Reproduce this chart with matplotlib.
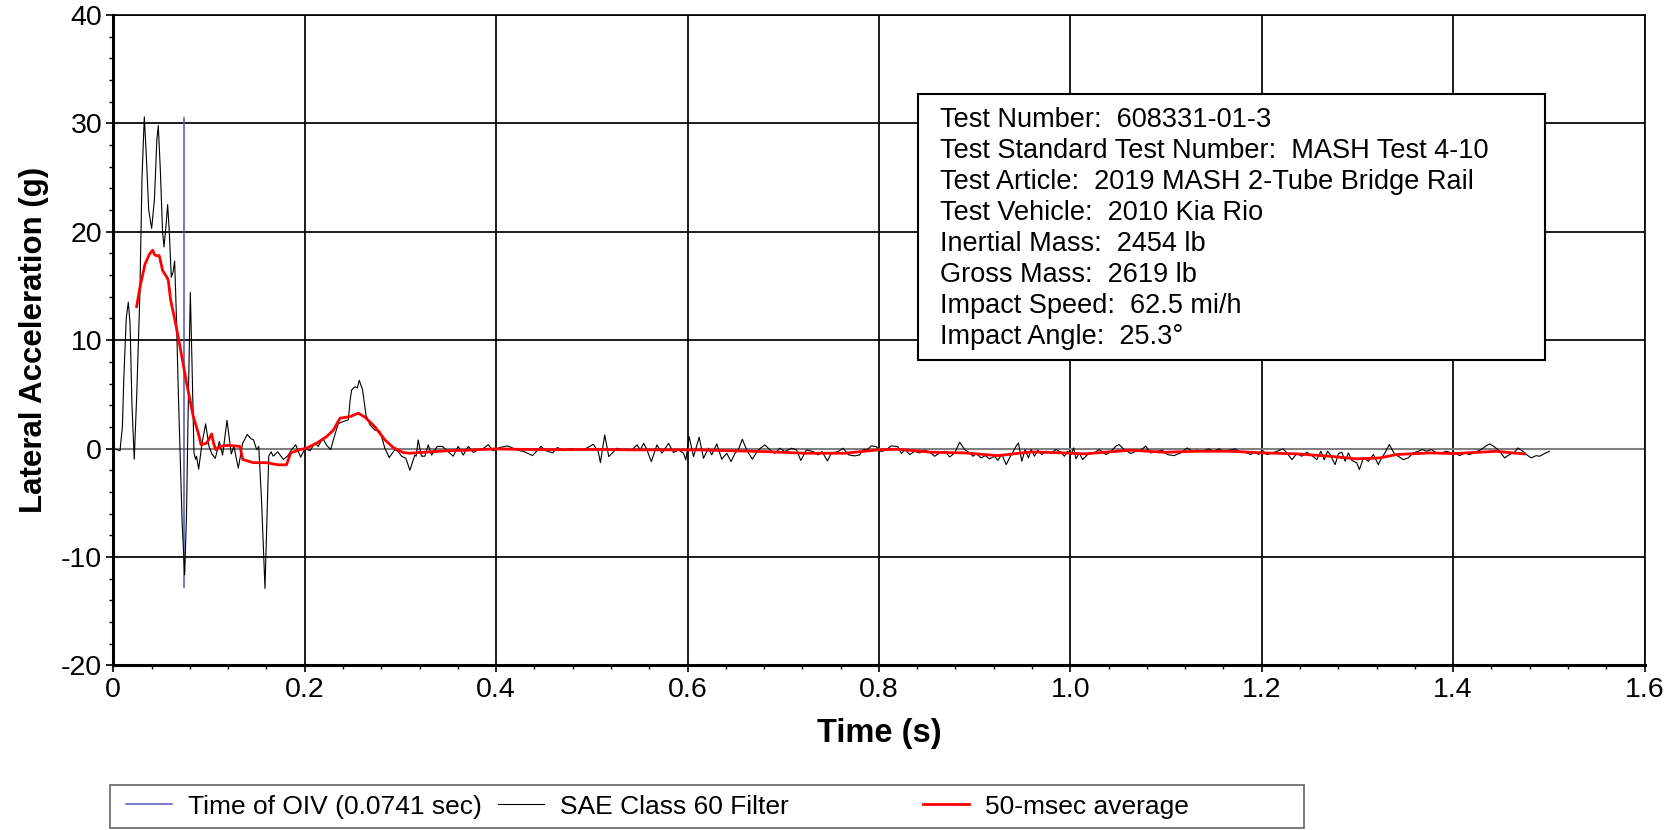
import matplotlib
matplotlib.use("Agg")
import matplotlib.pyplot as plt
from matplotlib.patches import Rectangle
from matplotlib.lines import Line2D
from matplotlib.ticker import MultipleLocator, FuncFormatter

plt.rcParams['font.family'] = ['Liberation Sans', 'DejaVu Sans']

# ---- data ----
sae_t = [0.000, 0.004, 0.007, 0.0095, 0.0110, 0.0135, 0.0157, 0.0175, 0.0195, 0.0219,
         0.0245, 0.0277, 0.0300, 0.0324, 0.0345, 0.0370, 0.0401, 0.0430, 0.0455, 0.0470,
         0.0490, 0.0515, 0.0530, 0.0550, 0.0568, 0.0585, 0.0606, 0.0625, 0.0641, 0.0660,
         0.0680, 0.0697, 0.0720, 0.0746, 0.0765, 0.0785, 0.0805, 0.0822, 0.0843, 0.0860,
         0.0870, 0.0892, 0.0927, 0.0965, 0.1000, 0.1030, 0.1066, 0.1108, 0.1142, 0.1188,
         0.1233, 0.1260, 0.1306, 0.1352, 0.1400, 0.1440, 0.1465, 0.1498, 0.1520, 0.1550,
         0.1585, 0.1610, 0.1624, 0.1650, 0.1670, 0.1718, 0.1777, 0.1820, 0.1864, 0.1906,
         0.1958, 0.2003,
         0.2055, 0.2107, 0.2142, 0.2187, 0.2230, 0.2271, 0.2316, 0.2351, 0.2403, 0.2456,
         0.2475, 0.2490, 0.2525, 0.2550, 0.2570, 0.2605, 0.2640, 0.2681, 0.2733, 0.2786,
         0.2838, 0.2883, 0.2942, 0.2980, 0.3012, 0.3057, 0.3099, 0.3151, 0.3165, 0.3186,
         0.3220, 0.3256, 0.3291, 0.3326, 0.3385, 0.3440, 0.3500, 0.3552, 0.3604, 0.3657,
         0.3709, 0.3760, 0.3813, 0.3865, 0.3918, 0.3970, 0.4040, 0.4120, 0.4210, 0.4296,
         0.4380, 0.4469, 0.4520, 0.4591, 0.4640, 0.4710, 0.4780, 0.4850, 0.4920, 0.5016,
         0.5068, 0.5090,
         0.5135, 0.5177, 0.5212, 0.5264, 0.5316, 0.5368, 0.5420, 0.5472, 0.5507, 0.5542,
         0.5576, 0.5622, 0.5681, 0.5733, 0.5802, 0.5854, 0.5906, 0.5958, 0.5983, 0.6017,
         0.6063, 0.6122, 0.6167, 0.6219, 0.6253, 0.6306, 0.6358, 0.6410, 0.6455, 0.6497,
         0.6531, 0.6573, 0.6618, 0.6677, 0.6740, 0.6809, 0.6861, 0.6913, 0.6965, 0.7017,
         0.7087, 0.7139, 0.7184, 0.7243, 0.7313, 0.7365, 0.7406, 0.7462, 0.7503, 0.7573,
         0.7625, 0.7684, 0.7747, 0.7799, 0.7833, 0.7885, 0.7920, 0.7972, 0.8024, 0.8076,
         0.8128, 0.8198,
         0.8236, 0.8271, 0.8323, 0.8375, 0.8427, 0.8479, 0.8531, 0.8583, 0.8635, 0.8688,
         0.8740, 0.8792, 0.8844, 0.8896, 0.8948, 0.8983, 0.9017, 0.9069, 0.9111, 0.9156,
         0.9208, 0.9243, 0.9285, 0.9330, 0.9365, 0.9399, 0.9434, 0.9458, 0.9493, 0.9528,
         0.9563, 0.9590, 0.9625, 0.9660, 0.9701, 0.9747, 0.9799, 0.9851, 0.9903, 0.9938,
         0.9972, 1.0007, 1.0035, 1.0059, 1.0094, 1.0128, 1.0181, 1.0250, 1.0302, 1.0372,
         1.0424, 1.0476, 1.0510, 1.0563, 1.0632, 1.0684, 1.0736, 1.0788, 1.0840, 1.0910,
         1.0962, 1.1014, 1.1083, 1.1153, 1.1222, 1.1274, 1.1326,
         1.1378, 1.1448, 1.1500, 1.1552, 1.1604, 1.1656, 1.1726, 1.1778, 1.1830, 1.1882,
         1.1934, 1.1969, 1.2003, 1.2056, 1.2108, 1.2160, 1.2222, 1.2264, 1.2316, 1.2368,
         1.2420, 1.2472, 1.2524, 1.2576, 1.2618, 1.2653, 1.2688, 1.2715, 1.2767, 1.2802,
         1.2837, 1.2872, 1.2906, 1.2941, 1.2993, 1.3021, 1.3063, 1.3115, 1.3167, 1.3219,
         1.3253, 1.3288, 1.3333, 1.3358, 1.3392, 1.3427, 1.3479, 1.3531, 1.3583, 1.3635,
         1.3681, 1.3722, 1.3774, 1.3826, 1.3878, 1.3931, 1.3983, 1.4017, 1.4069, 1.4122,
         1.4174, 1.4226, 1.4295, 1.4340, 1.4382, 1.4434, 1.4486, 1.4538, 1.4590, 1.4642,
         1.4677, 1.4729, 1.4781, 1.4816, 1.4868, 1.4903, 1.4955, 1.5007]
sae_g = [0.0, -0.1, -0.2, 2.0, 6.5, 12.0, 13.5, 11.5, 4.0, -0.98,
         5.0, 14.0, 25.0, 30.6, 27.0, 22.0, 20.3, 23.0, 28.5, 29.8,
         26.0, 20.0, 18.6, 20.5, 22.5, 20.0, 15.8, 16.3, 17.3, 12.0,
         5.0, 0.0, -7.0, -11.65, -6.0, 5.0, 14.4, 8.0, -0.4, -1.0,
         -0.7, -1.9, 0.5, 2.28, 0.2, -0.5, -0.9, 0.65, -0.6, 2.6,
         -0.5, 0.2, -1.8, 0.5, 1.3, 0.9, 0.8, -0.1, 0.2, -5.0,
         -12.9, -5.0, -0.7, -0.3, -0.7, -0.3, -1.0, -0.7, -0.1, 0.35,
         -0.8, 0.0,
         -0.2, 0.5, 0.2, 0.95, 0.3, -0.1, 1.3, 2.3, 2.5, 2.65,
         4.5, 5.4, 5.7, 5.6, 6.3, 5.4, 3.1, 2.2, 1.7, 1.6,
         0.03, -0.83, -0.1, -0.3, -0.7, -0.9, -2.0, -0.6, -0.7, 0.8,
         -0.7, -0.7, 0.35, -0.6, 0.2, 0.2, -0.3, -0.7, 0.2, -0.6,
         0.2, -0.35, -0.1, 0.0, 0.35, -0.2, 0.1, 0.25, -0.1, -0.3,
         -0.65, 0.2, -0.2, -0.4, 0.1, -0.2, 0.0, -0.1, -0.1, 0.4,
         -0.3, -1.3,
         1.26, -0.74, -0.43, 0.03, -0.12, -0.06, -0.12, 0.34, -0.12, 0.49,
         -0.12, -1.2, 0.34, -0.43, 0.49, -0.37, -0.12, -0.43, -1.05, 1.1,
         -0.74, 1.05, -0.9, 0.03, -0.58, 0.43, -0.98, -0.43, -1.2, -0.43,
         -0.12, 0.86, -0.12, -0.98, -0.12, 0.34, -0.12, -0.43, 0.03, -0.28,
         0.03, -0.12, -1.1, -0.12, -0.28, -0.58, -0.28, -1.14, -0.43, -0.28,
         0.03, -0.58, -0.68, -0.58, -0.12, -0.06, 0.25, 0.18, -0.28, -0.12,
         0.25, 0.18,
         -0.46, -0.09, -0.55, -0.25, -0.4, -0.15, -0.34, -0.71, -0.4, -0.25,
         -0.77, -0.4, 0.58, -0.09, -0.4, -0.71, -0.46, -0.86, -0.65, -0.95,
         -0.71, -1.08, -0.55, -1.48, -0.86, -0.34, 0.22, 0.52, -1.17, -0.09,
         -0.86, -0.09, -0.71, -0.15, -0.55, -0.25, -0.4, -0.09, -0.34, -0.71,
         -0.25, -0.55, 0.06, -0.95, -0.4, -1.02, -0.55, -0.4, -0.09, -0.55,
         -0.25, 0.22, 0.37, -0.09, -0.46, -0.25, -0.15, 0.22, -0.4, -0.25,
         -0.15, -0.55, -0.65, -0.4, 0.06, -0.25, -0.15,
         -0.25, -0.03, -0.25, -0.03, -0.25, -0.15, -0.03, -0.34, -0.34, -0.55,
         -0.34, -0.55, -0.15, -0.55, -0.4, -0.25, -0.03, -0.4, -1.02, -0.46,
         -0.71, -0.34, -0.65, -1.02, -0.25, -1.02, -0.25, -0.55, -1.48, -0.46,
         -0.34, -1.17, -0.4, -1.08, -1.32, -1.94, -0.86, -1.17, -0.55, -1.48,
         -0.86, -0.4, 0.37, -0.03, -0.55, -0.71, -1.02, -0.86, -0.4, -0.25,
         -0.09, -0.25, -0.09, -0.4, -0.4, -0.25, -0.4, -0.4, -0.65, -0.4,
         -0.55, -0.34, -0.09, 0.22, 0.43, 0.15, -0.25, -0.86, -0.55, -0.34,
         0.06, -0.25, -0.65, -0.86, -0.65, -0.71, -0.46, -0.25]

avg_t = [0.0244, 0.0279, 0.0331, 0.0376, 0.0411, 0.0430, 0.0446, 0.0480, 0.0516, 0.0560,
         0.0575, 0.0599, 0.0645, 0.0697, 0.0767, 0.0836, 0.0889, 0.0917, 0.0976, 0.1028,
         0.1050, 0.1073, 0.1115, 0.1200, 0.1324, 0.1352, 0.1463, 0.1602, 0.1724, 0.1810,
         0.1853, 0.1950, 0.2020, 0.2125, 0.2229, 0.2299, 0.2369, 0.2473, 0.2560, 0.2630,
         0.2734, 0.2838, 0.2925, 0.3030, 0.3100, 0.3239, 0.3500, 0.3692, 0.4006, 0.4300,
         0.4653, 0.5085, 0.5420, 0.6115, 0.6809, 0.7226, 0.7642, 0.7990, 0.8198, 0.8549,
         0.8896, 0.9243, 0.9590, 0.9938, 1.0146, 1.0632, 1.0979, 1.1326, 1.1674, 1.2021,
         1.2368, 1.2715, 1.2993, 1.3236, 1.3410, 1.3757, 1.4000, 1.4278, 1.4451, 1.4625,
         1.4747]
avg_g = [13.1, 14.9, 17.0, 17.9, 18.3, 17.9, 17.8, 17.8, 16.4, 15.8,
         15.5, 13.7, 11.8, 9.4, 6.0, 2.95, 1.4, 0.35, 0.5, 1.35,
         0.4, -0.1, 0.2, 0.3, 0.2, -1.0, -1.3, -1.3, -1.5, -1.5,
         -0.4, -0.1, 0.04, 0.5, 1.1, 1.7, 2.8, 2.95, 3.26, 2.9,
         2.0, 0.8, 0.1, -0.37, -0.43, -0.34, -0.2, -0.15, -0.03, -0.08,
         -0.1, -0.08, -0.12, -0.12, -0.28, -0.43, -0.43, -0.12, -0.06, -0.34,
         -0.4, -0.65, -0.31, -0.4, -0.49, -0.15, -0.34, -0.25, -0.25, -0.4,
         -0.49, -0.71, -0.95, -0.86, -0.55, -0.4, -0.46, -0.34, -0.25, -0.4,
         -0.49]

oiv_time = 0.0741
legend_labels = ["Time of OIV (0.0741 sec)", "SAE Class 60 Filter", "50-msec average"]
info_lines = ["Test Number:  608331-01-3",
              "Test Standard Test Number:  MASH Test 4-10",
              "Test Article:  2019 MASH 2-Tube Bridge Rail",
              "Test Vehicle:  2010 Kia Rio",
              "Inertial Mass:  2454 lb",
              "Gross Mass:  2619 lb",
              "Impact Speed:  62.5 mi/h",
              "Impact Angle:  25.3°"]
x_label = "Time (s)"
y_label = "Lateral Acceleration (g)"

# ---- figure ----
W, H = 1679, 830
fig = plt.figure(figsize=(W / 100, H / 100), dpi=100)
ax = fig.add_axes([113.3 / W, 1 - 665.4 / H, (1644.5 - 113.3) / W, (665.4 - 14.9) / H])

ax.set_xlim(0, 1.6)
ax.set_ylim(-20, 40)
ax.xaxis.set_major_locator(MultipleLocator(0.2))
ax.xaxis.set_minor_locator(MultipleLocator(0.04))
ax.yaxis.set_major_locator(MultipleLocator(10))
ax.yaxis.set_minor_locator(MultipleLocator(2))
ax.xaxis.set_major_formatter(FuncFormatter(lambda v, p: "0" if abs(v) < 1e-9 else f"{v:.1f}"))
ax.yaxis.set_major_formatter(FuncFormatter(lambda v, p: f"{v:.0f}"))

ax.grid(True, which='major', color='black', linewidth=1.25)
ax.set_axisbelow(True)
ax.axhline(0, color='#808080', linewidth=1.5, zorder=1.5)

ax.tick_params(which='major', direction='out', length=5, width=1.2, labelsize=20.5, pad=3)
ax.tick_params(which='minor', direction='out', length=3, width=1.0)
for s in ['left', 'bottom']:
    ax.spines[s].set_linewidth(2.2)
for s in ['top', 'right']:
    ax.spines[s].set_linewidth(1.2)

oiv_color = '#5252c0'
ax.vlines(oiv_time, min(sae_g), max(sae_g), color=oiv_color, linewidth=1.1, zorder=3)
l_sae, = ax.plot(sae_t, sae_g, color='black', linewidth=0.8, zorder=3)
l_avg, = ax.plot(avg_t, avg_g, color='#ff0000', linewidth=2.0, zorder=4)

ax.set_xlabel(x_label, fontsize=23.5, fontweight='bold', labelpad=11.5)
ax.set_ylabel(y_label, fontsize=22.5, fontweight='bold', labelpad=9)

# info box
bx0, bx1, by0, by1 = 918 / W, 1545 / W, 1 - 360 / H, 1 - 94 / H
rect = Rectangle((bx0, by0), bx1 - bx0, by1 - by0, transform=fig.transFigure,
                 facecolor='white', edgecolor='black', linewidth=1.5, zorder=10)
fig.patches.append(rect)
fig.text(940 / W, 1 - 107 / H, "\n".join(info_lines), fontsize=19.5, va='top', ha='left',
         linespacing=1.25, zorder=11)

# legend frame + three entries at their own positions
lx0, lx1, ly0, ly1 = 110 / W, 1304 / W, 1 - 828 / H, 1 - 785 / H
frame = Rectangle((lx0, ly0), lx1 - lx0, ly1 - ly0, transform=fig.transFigure,
                  facecolor='white', edgecolor='#707070', linewidth=1.3, zorder=1)
fig.patches.append(frame)
handles = [Line2D([], [], color=oiv_color, linewidth=1.1),
           l_sae,
           Line2D([], [], color='#ff0000', linewidth=2.0)]
starts = [126, 498, 923]
for h, lab, xs in zip(handles, legend_labels, starts):
    fig.legend([h], [lab], loc='center left', bbox_to_anchor=(xs / W, (ly0 + ly1) / 2),
               fontsize=19, frameon=False, handlelength=1.75, handletextpad=0.6,
               borderpad=0, borderaxespad=0)

fig.savefig("out.png", dpi=100, facecolor='white')
